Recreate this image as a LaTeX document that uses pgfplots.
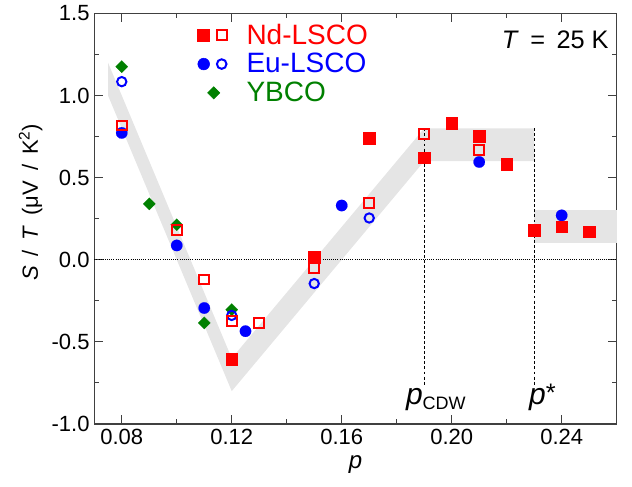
\documentclass[border=0pt]{standalone}
\usepackage{fontspec}
\setmainfont{Liberation Sans}
\usepackage{pgfplots}
\pgfplotsset{compat=1.18}
\definecolor{ndred}{HTML}{FF0000}
\definecolor{eublue}{HTML}{0000FF}
\definecolor{ybgreen}{HTML}{008000}
\definecolor{band}{HTML}{E5E5E5}
\definecolor{axisgray}{HTML}{404040}

\begin{document}
\begin{tikzpicture}
\begin{axis}[
  name=ax, scale only axis, width=391.8pt, height=308pt,
  xmin=0.07, xmax=0.26, ymin=-1, ymax=1.5,
  xtick={0.08,0.12,0.16,0.20,0.24}, minor x tick num=1,
  ytick={-1,-0.5,0,0.5,1,1.5}, minor y tick num=1,
  tick align=inside, major tick length=6.5pt, minor tick length=3.5pt,
  axis line style={axisgray, line width=0.8pt},
  every tick/.style={axisgray, line width=0.8pt},
  /pgf/number format/assume math mode=true,
  xticklabel style={/pgf/number format/fixed, /pgf/number format/fixed zerofill, /pgf/number format/precision=2},
  yticklabel style={/pgf/number format/fixed, /pgf/number format/fixed zerofill, /pgf/number format/precision=1},
  tick label style={font=\fontsize{16.5}{18}\selectfont},
  label style={font=\fontsize{16.5}{18}\selectfont},
  xlabel={\textit{p}},
  xlabel style={font=\fontsize{18}{18}\selectfont, yshift=-1.5pt},
  ylabel={\textit{S}\hspace{0.45em}/\hspace{0.45em}\textit{T}\hspace{0.45em}(μV\hspace{0.45em}/\hspace{0.45em}K\textsuperscript{2})},
  ylabel style={at={(ticklabel cs:0.54)}},
  legend style={at={(axis description cs:0.1975,0.9745)}, anchor=north west,
    draw=none, fill=none, inner sep=0pt, outer sep=0pt, row sep=5.4pt, column sep=0pt,
    font=\fontsize{21}{21}\selectfont, nodes={inner sep=0pt}},
  legend cell align=left,
  clip=false,
]
% legend
\addlegendimage{legend image code/.code={
  \fill[ndred] (-4.5pt,-4.5pt) rectangle (4.5pt,4.5pt);
  \draw[ndred, line width=1.5pt, fill=white] (9.75pt,-3.75pt) rectangle (17.25pt,3.75pt);
  \path (31.9pt,0pt);}}
\addlegendentry{\textcolor{ndred}{Nd-LSCO}}
\addlegendimage{legend image code/.code={
  \fill[eublue] (0pt,0pt) circle (4.4pt);
  \draw[eublue, line width=1.5pt, fill=white] (13.5pt,0pt) circle (3.6pt);
  \path (-4.5pt,0pt) (31.9pt,0pt);}}
\addlegendentry{\textcolor{eublue}{Eu-LSCO}}
\addlegendimage{legend image code/.code={
  \fill[ybgreen] (7.5pt,4.6pt) -- (12.1pt,0pt) -- (7.5pt,-4.6pt) -- (2.9pt,0pt) -- cycle;
  \path (-4.5pt,0pt) (31.9pt,0pt);}}
\addlegendentry{\textcolor{ybgreen}{YBCO}}

% guide bands
\addplot[fill=band, draw=none, forget plot] coordinates {
  (0.075,1.2) (0.12,-0.6) (0.19,0.8) (0.23,0.8) (0.23,0.6) (0.19,0.6) (0.12,-0.8) (0.075,1.0)} -- cycle;
\addplot[fill=band, draw=none, forget plot] coordinates {
  (0.23,0.1) (0.26,0.1) (0.26,0.3) (0.23,0.3)} -- cycle;

% zero line and markers of p_CDW and p*
\addplot[black, line width=0.6pt, densely dotted, forget plot] coordinates {(0.07,0) (0.26,0)};
\addplot[black, line width=0.6pt, dash pattern=on 2.2pt off 1.6pt, forget plot] coordinates {(0.19,0.8) (0.19,-0.765)};
\addplot[black, line width=0.6pt, dash pattern=on 2.2pt off 1.6pt, forget plot] coordinates {(0.23,0.8) (0.23,-0.765)};

% YBCO
\addplot[only marks, mark=square*, mark size=3.25pt, mark options={rotate=45, fill=ybgreen, draw=ybgreen, line width=0.1pt}, forget plot]
  coordinates {(0.08,1.175) (0.09,0.34) (0.10,0.213) (0.11,-0.385) (0.12,-0.304)};
% Eu-LSCO filled
\addplot[only marks, mark=*, mark size=4.3pt, mark options={fill=eublue, draw=eublue, line width=0.1pt}, forget plot]
  coordinates {(0.08,0.772) (0.10,0.087) (0.11,-0.294) (0.125,-0.435) (0.16,0.33) (0.21,0.595) (0.24,0.27)};
% Eu-LSCO open
\addplot[only marks, mark=o, mark size=3.5pt, mark options={fill=white, draw=eublue, line width=1.5pt}, forget plot]
  coordinates {(0.08,1.084) (0.12,-0.339) (0.15,-0.145) (0.17,0.254)};
% Nd-LSCO filled
\addplot[only marks, mark=square*, mark size=4.4pt, mark options={fill=ndred, draw=ndred, line width=0.4pt}, forget plot]
  coordinates {(0.12,-0.607) (0.15,0.015) (0.17,0.74) (0.19,0.62) (0.20,0.83) (0.21,0.75) (0.22,0.58) (0.23,0.18) (0.24,0.20) (0.25,0.17)};
% Nd-LSCO open
\addplot[only marks, mark=square, mark size=3.7pt, mark options={fill=white, draw=ndred, line width=1.5pt}, forget plot]
  coordinates {(0.08,0.817) (0.10,0.181) (0.11,-0.12) (0.12,-0.373) (0.13,-0.386) (0.15,-0.048) (0.17,0.344) (0.19,0.766) (0.21,0.67)};

\node[anchor=north east, inner sep=0pt, font=\fontsize{19}{20}\selectfont]
  at (axis description cs:0.9852,0.9590) {\textit{T}\hspace{0.45em}=\hspace{0.45em}25 K};
\node[anchor=base west, inner sep=0pt] at (axis cs:0.1833,-0.881)
  {\fontsize{22.5}{22}\selectfont\textit{p}\fontsize{13.5}{14}\selectfont\raisebox{-4pt}{CDW}};
\node[anchor=base west, inner sep=0pt] at (axis cs:0.2281,-0.881)
  {\fontsize{22.5}{22}\selectfont\textit{p}\fontsize{19}{19}\selectfont\raisebox{2.5pt}{*}};
\end{axis}
\pgfresetboundingbox
\path ([shift={(-70.7pt,-47.25pt)}]ax.south west) rectangle ([shift={(11.5pt,10pt)}]ax.north east);
\end{tikzpicture}
\end{document}
